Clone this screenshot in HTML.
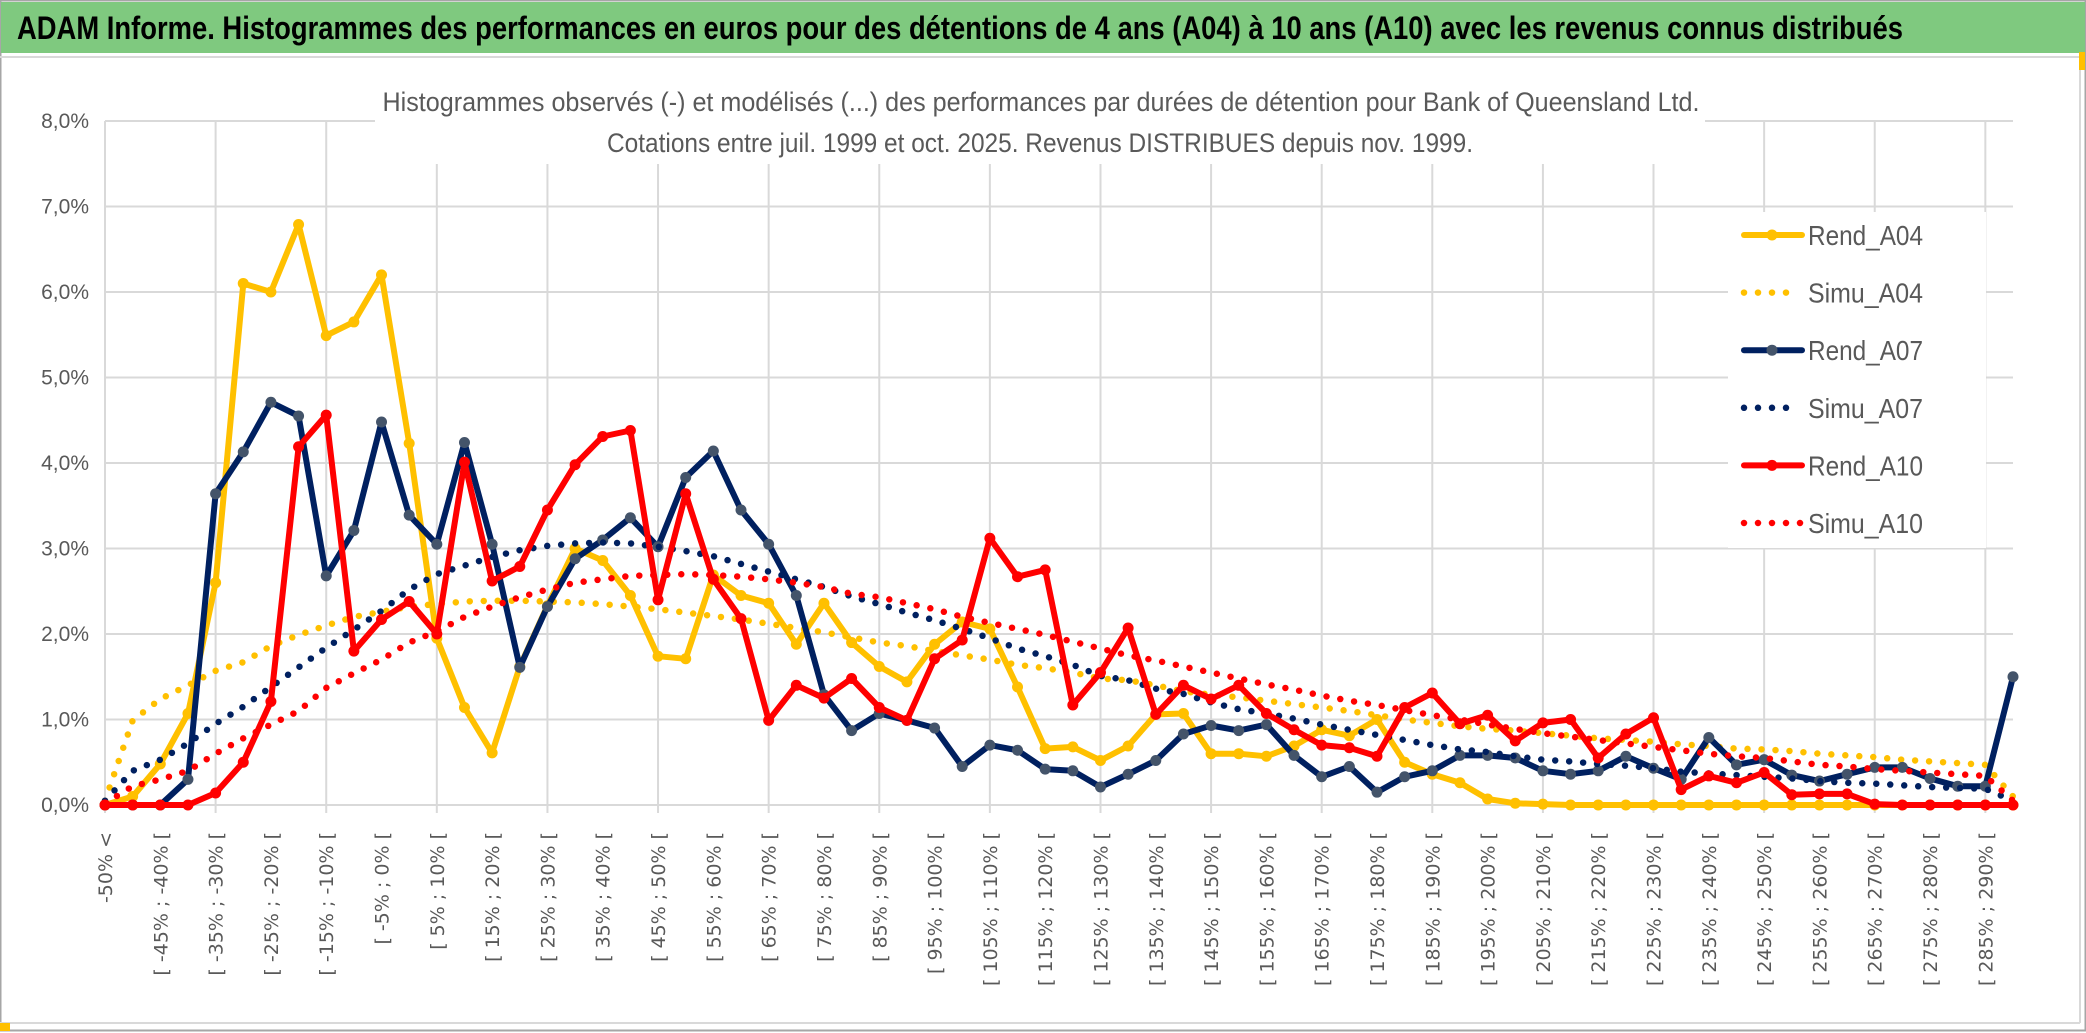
<!DOCTYPE html>
<html><head><meta charset="utf-8">
<style>
html,body{margin:0;padding:0;background:#fff;}
svg{display:block;}
text{font-family:"Liberation Sans Narrow","Liberation Sans",sans-serif;}
.xl{font-family:"DejaVu Sans","Liberation Sans",sans-serif;font-size:19px;fill:#595959;}
</style></head>
<body>
<svg id="chart" width="2086" height="1033" viewBox="0 0 2086 1033" xmlns="http://www.w3.org/2000/svg">
  <rect x="0" y="0" width="2086" height="1033" fill="#ffffff"/>
  <rect x="0.5" y="0.5" width="2085" height="1030" fill="none" stroke="#a6a6a6" stroke-width="2"/>
  <rect x="1" y="2" width="2084" height="51" fill="#7fc97f"/>
  <text x="17" y="39" font-size="32" font-weight="bold" fill="#000" textLength="1886" lengthAdjust="spacingAndGlyphs">ADAM Informe. Histogrammes des performances en euros pour des détentions de 4 ans (A04) à 10 ans (A10) avec les revenus connus distribués</text>
  <line x1="0" y1="57" x2="2080" y2="57" stroke="#d9d9d9" stroke-width="2"/>
  <line x1="2080" y1="57" x2="2080" y2="1023" stroke="#d9d9d9" stroke-width="2"/>
  <line x1="0" y1="1023" x2="2080" y2="1023" stroke="#d9d9d9" stroke-width="2"/>
  <rect x="0" y="1023" width="10" height="8" fill="#ffc000"/>
  <rect x="2079" y="52" width="6" height="18" fill="#ffc000"/>
  <g id="grid"></g>
  <g id="yaxis"></g>
  <g id="xaxis"></g>
  <g id="series"></g>
  <rect x="375" y="82" width="1330" height="82" fill="#fff"/>
  <text x="1041" y="111" font-size="27" fill="#595959" text-anchor="middle" textLength="1317" lengthAdjust="spacingAndGlyphs">Histogrammes observés (-) et modélisés (...) des performances par durées de détention pour Bank of Queensland Ltd.</text>
  <text x="1040" y="152" font-size="27" fill="#595959" text-anchor="middle" textLength="866" lengthAdjust="spacingAndGlyphs">Cotations entre juil. 1999 et oct. 2025. Revenus DISTRIBUES depuis nov. 1999.</text>
  <rect x="1728" y="212" width="258" height="336" fill="#fff"/>
  <g id="legend"></g>
</svg>
<script>
// ---- data ----
const categoryCount = 70;
const yTicks = [0,1,2,3,4,5,6,7,8];
const yTickLabels = ["0,0%","1,0%","2,0%","3,0%","4,0%","5,0%","6,0%","7,0%","8,0%"];
const rendA04 = [0,0.1,0.48,1.07,2.6,6.1,6.0,6.79,5.49,5.65,6.2,4.23,1.95,1.14,0.61,1.62,2.33,3.0,
 2.86,2.45,1.74,1.71,2.69,2.45,2.36,1.88,2.36,1.9,1.62,1.44,1.88,2.14,2.06,1.38,0.66,0.68,
 0.52,0.69,1.06,1.07,0.6,0.6,0.57,0.69,0.88,0.81,1.0,0.5,0.36,0.26,0.07,0.02,0.01,0,
 0,0,0,0,0,0,0,0,0,0,0,0,0,0,0,0];
const rendA07 = [0,0,0,0.3,3.64,4.13,4.71,4.55,2.68,3.21,4.48,3.39,3.05,4.24,3.05,1.61,2.32,2.88,
 3.1,3.36,3.02,3.83,4.14,3.45,3.05,2.45,1.29,0.87,1.07,0.99,0.9,0.45,0.7,0.64,0.42,0.4,
 0.21,0.36,0.52,0.83,0.93,0.87,0.94,0.58,0.33,0.45,0.15,0.33,0.4,0.58,0.58,0.55,0.4,0.36,
 0.4,0.57,0.43,0.3,0.79,0.47,0.53,0.35,0.28,0.36,0.44,0.44,0.31,0.22,0.22,1.5];
const rendA10 = [0,0,0,0,0.14,0.5,1.21,4.19,4.56,1.8,2.17,2.38,2.0,4.01,2.62,2.79,3.45,3.98,
 4.31,4.38,2.4,3.64,2.64,2.18,0.99,1.4,1.25,1.48,1.14,0.99,1.71,1.93,3.12,2.67,2.75,1.17,
 1.55,2.07,1.06,1.4,1.24,1.4,1.07,0.88,0.7,0.67,0.57,1.14,1.31,0.95,1.05,0.75,0.96,1.0,
 0.55,0.83,1.02,0.18,0.34,0.26,0.38,0.12,0.13,0.13,0.01,0,0,0,0,0];
const simuA04 = [0.05,0.99,1.24,1.4,1.57,1.67,1.86,1.99,2.1,2.2,2.26,2.32,2.35,2.38,2.39,2.39,2.38,2.37,
 2.35,2.32,2.29,2.25,2.21,2.17,2.12,2.07,2.02,1.96,1.9,1.86,1.8,1.75,1.7,1.64,1.6,1.55,
 1.48,1.46,1.4,1.33,1.29,1.26,1.22,1.18,1.14,1.1,1.05,1.0,0.96,0.92,0.89,0.87,0.84,0.81,
 0.78,0.76,0.74,0.71,0.69,0.66,0.65,0.63,0.6,0.58,0.56,0.53,0.51,0.49,0.47,0.1];
const simuA07 = [0.05,0.4,0.53,0.72,0.95,1.15,1.38,1.61,1.84,2.05,2.27,2.52,2.7,2.8,2.9,2.98,3.03,3.06,
 3.07,3.06,3.02,2.97,2.91,2.82,2.73,2.64,2.55,2.44,2.35,2.25,2.16,2.06,1.95,1.83,1.74,1.64,
 1.51,1.46,1.36,1.3,1.2,1.12,1.07,1.01,0.94,0.88,0.82,0.76,0.7,0.65,0.62,0.57,0.53,0.51,
 0.48,0.46,0.43,0.39,0.37,0.35,0.33,0.31,0.28,0.26,0.25,0.23,0.21,0.2,0.19,0.05];
const simuA10 = [0.02,0.22,0.3,0.4,0.6,0.78,0.94,1.1,1.37,1.54,1.7,1.9,2.03,2.2,2.32,2.43,2.52,2.6,
 2.64,2.68,2.69,2.7,2.69,2.67,2.64,2.6,2.55,2.47,2.43,2.36,2.29,2.2,2.13,2.06,1.99,1.91,
 1.83,1.75,1.69,1.62,1.55,1.48,1.41,1.35,1.28,1.22,1.17,1.11,1.05,1.0,0.94,0.89,0.84,0.8,
 0.76,0.72,0.68,0.64,0.6,0.57,0.55,0.51,0.47,0.45,0.42,0.4,0.38,0.36,0.34,0.05];
const seriesNames = ["Rend_A04","Simu_A04","Rend_A07","Simu_A07","Rend_A10","Simu_A10"];

// ---- layout ----
const NS = "http://www.w3.org/2000/svg";
const plotLeft = 105, plotRight = 2013, yZero = 805, yTop = 121, yMax = 8;
function xPos(i){ return plotLeft + i*(plotRight-plotLeft)/(categoryCount-1); }
function yPos(v){ return yZero - v*(yZero-yTop)/yMax; }
function mk(tag, attrs, parent){ const e=document.createElementNS(NS,tag); for(const k in attrs) e.setAttribute(k,attrs[k]); parent.appendChild(e); return e; }
function catLabel(i){ if(i===0) return "-50% <"; const a=-55+5*i; return "[ "+a+"% ; "+(a+5)+"% ["; }

const grid = document.getElementById('grid');
yTicks.forEach((t)=>{
  const l = mk('line',{x1:plotLeft,x2:plotRight,y1:yPos(t),y2:yPos(t),stroke:'#d9d9d9','stroke-width':2},grid);
  
  
});
for(let i=0;i<categoryCount;i+=4){
  const l = mk('line',{x1:xPos(i),x2:xPos(i),y1:yTop,y2:yZero+8,stroke:'#d9d9d9','stroke-width':2},grid);
  
  
}
const yaxis = document.getElementById('yaxis');
yTicks.forEach((t,k)=>{
  const tx = mk('text',{x:89,y:yPos(t)+7,'font-size':21,fill:'#595959','text-anchor':'end'},yaxis);
  tx.textContent = yTickLabels[k];
  
  
});
const xaxis = document.getElementById('xaxis');
for(let i=0;i<categoryCount-1;i+=2){
  const x = xPos(i)+7, y = 832;
  const tx = mk('text',{x:x,y:y,class:'xl','text-anchor':'end',transform:'rotate(-90 '+x+' '+y+')'},xaxis);
  tx.textContent = catLabel(i);
  
  
}

const seriesG = document.getElementById('series');
function pathD(arr){ return arr.map((v,i)=>(i?'L':'M')+xPos(i).toFixed(1)+' '+yPos(v).toFixed(1)).join(' '); }
function solidSeries(arr,color,marker,name){
  const g = mk('g',{},seriesG);
  
  
  const p = mk('path',{d:pathD(arr),fill:'none',stroke:color,'stroke-width':6,'stroke-linejoin':'round','stroke-linecap':'round'},g);
  
  
  arr.forEach((v,i)=>{
    const c = mk('circle',{cx:xPos(i),cy:yPos(v),r:5.5,fill:marker},g);
    
    
  });
}
function dottedSeries(arr,color,name){
  const p = mk('path',{d:pathD(arr),fill:'none',stroke:color,'stroke-width':6.5,'stroke-linecap':'round','stroke-linejoin':'round','stroke-dasharray':'0 14'},seriesG);
  
  
}
solidSeries(rendA04,'#ffc000','#ffc000','rend-a04');
dottedSeries(simuA04,'#ffc000','simu-a04');
solidSeries(rendA07,'#002060','#44546a','rend-a07');
dottedSeries(simuA07,'#002060','simu-a07');
solidSeries(rendA10,'#ff0000','#ff0000','rend-a10');
dottedSeries(simuA10,'#ff0000','simu-a10');

// legend
const legend = document.getElementById('legend');
const legColors = ['#ffc000','#ffc000','#002060','#002060','#ff0000','#ff0000'];
const legMarkers = ['#ffc000',null,'#44546a',null,'#ff0000',null];
seriesNames.forEach((n,k)=>{
  const y = 235 + k*57.6;
  const g = mk('g',{},legend);
  
  
  if(k%2===0){
    mk('line',{x1:1744,x2:1802,y1:y,y2:y,stroke:legColors[k],'stroke-width':6,'stroke-linecap':'round'},g);
    mk('circle',{cx:1772,cy:y,r:5.5,fill:legMarkers[k]},g);
  } else {
    mk('line',{x1:1744,x2:(k===5?1802:1792),y1:y,y2:y,stroke:legColors[k],'stroke-width':6.5,'stroke-linecap':'round','stroke-dasharray':'0 14'},g);
  }
  const t = mk('text',{x:1808,y:y+10,'font-size':28,fill:'#595959',textLength:115,lengthAdjust:'spacingAndGlyphs'},g);
  t.textContent = n;
  
  
});
</script>
</body></html>
